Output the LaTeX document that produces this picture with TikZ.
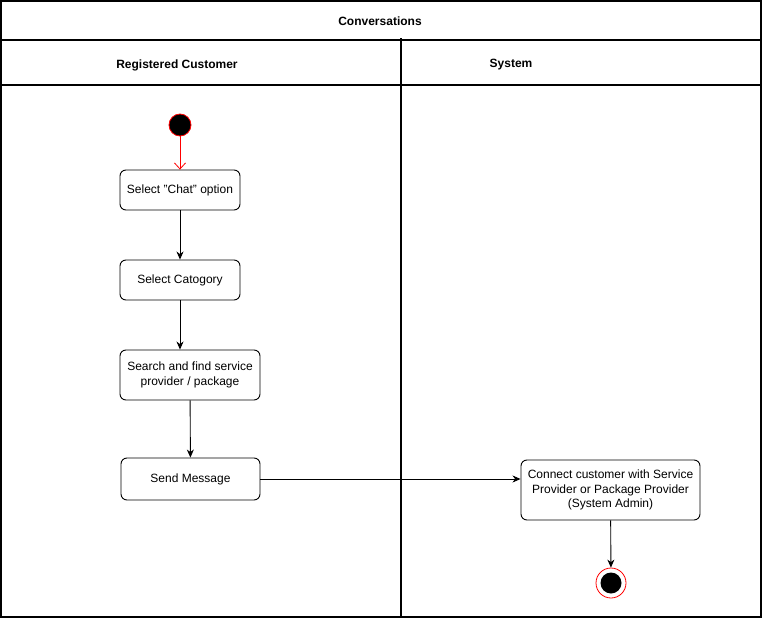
\documentclass[tikz,border=0pt]{standalone}
\usepackage{fontspec}
\setmainfont{Liberation Sans}
\usetikzlibrary{arrows.meta}
\begin{document}
\begin{tikzpicture}[x=1pt,y=-1pt,
  lane/.style={draw=black,line width=1.2pt},
  act/.style={draw=black,line width=0.9pt,rounded corners=6pt,fill=white,align=center,font=\fontsize{12}{14.5}\selectfont,inner sep=0pt},
  hdr/.style={font=\bfseries\fontsize{12}{14}\selectfont},
  flow/.style={draw=black,line width=0.9pt,-{Stealth[length=8pt,width=7pt,inset=2.5pt]}},
  startflow/.style={draw=red,line width=0.8pt,-{Straight Barb[length=6pt,width=11pt]}}]
\useasboundingbox (0,0) rectangle (764,621);
% swimlane frame
\draw[lane] (1,1) rectangle (761,617);
\draw[lane] (1,40) -- (761,40);
\draw[lane] (1,85) -- (761,85);
\draw[lane] (401,38) -- (401,617);
\node[hdr] (title) at (380,21) {Conversations};
\node[hdr] (lane1) at (177,65) {Registered Customer};
\node[hdr] (lane2) at (511,65) {System};
% start
\node[circle,draw=red,fill=black,line width=0.8pt,minimum size=22pt,inner sep=0pt] (start) at (180,125) {};
% activities
\node[act,minimum width=120pt,minimum height=40pt] (a1) at (180,190) {Select "Chat" option};
\node[act,minimum width=120pt,minimum height=40pt] (a2) at (180,280) {Select Catogory};
\node[act,minimum width=140pt,minimum height=50pt] (a3) at (190,375) {Search and find service\\provider / package};
\node[act,minimum width=139pt,minimum height=42pt] (a4) at (190.5,479) {Send Message};
\node[act,minimum width=179pt,minimum height=60pt] (a5) at (610.5,490) {Connect customer with Service\\Provider or Package Provider\\(System Admin)};
% end
\node[circle,draw=red,fill=white,line width=0.8pt,minimum size=30pt,inner sep=0pt] (end) at (611,583) {};
\node[circle,fill=black,minimum size=21pt,inner sep=0pt] (endin) at (end) {};
% flows
\draw[startflow] (start) -- (a1);
\draw[flow] (a1) -- (a2);
\draw[flow] (a2.south) -- (a2.south |- a3.north);
\draw[flow] (a3) -- (a4);
\draw[flow] (a4) -- (a5.west |- a4);
\draw[flow] (a5) -- (end);
\end{tikzpicture}
\end{document}
